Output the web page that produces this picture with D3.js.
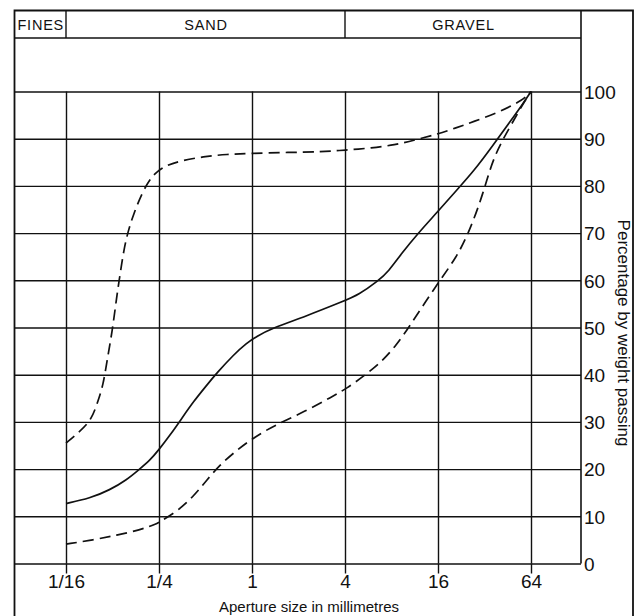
<!DOCTYPE html>
<html>
<head>
<meta charset="utf-8">
<script src="https://cdn.jsdelivr.net/npm/d3@7"></script>
<style>
  body { margin: 0; background: #fff; }
  svg { display: block; font-family: "Liberation Sans", Arial, sans-serif; }
</style>
</head>
<body>
<div id="chart"></div>
<script>
// aperture sizes (mm) and percentages
var sizeTicks = [1 / 16, 1 / 4, 1, 4, 16, 64];
var sizeTickLabels = ["1/16", "1/4", "1", "4", "16", "64"];
var pctTicks = [0, 10, 20, 30, 40, 50, 60, 70, 80, 90, 100];

var classNames = ["FINES", "SAND", "GRAVEL"];
var classLimits = [1 / 16, 4]; // fines | sand | gravel

// upper dashed curve
var upperSize = [0.0625, 0.077, 0.0916, 0.101, 0.109, 0.1146, 0.125, 0.133, 0.1396, 0.148, 0.158, 0.171,
  0.194, 0.219, 0.2415, 0.281, 0.343, 0.484, 0.686, 1, 1.71, 2.83, 4, 5.96, 8.4, 11.3, 15.9, 20.6,
  27.1, 40.3, 57, 64];
var upperPct = [25.5, 28, 30.5, 34.5, 38, 42.5, 49.5, 56.5, 61, 66.5, 70.5, 74,
  78.5, 81.5, 83, 84.4, 85.3, 86.2, 86.7, 86.9, 87.1, 87.2, 87.6, 88, 88.7, 89.7, 91, 92.2,
  93.6, 95.7, 98.2, 100];

// solid curve
var midSize = [0.0625, 0.0893, 0.1205, 0.154, 0.184, 0.219, 0.248, 0.295, 0.352, 0.418, 0.51, 0.59,
  0.758, 0.924, 1.07, 1.34, 2.2, 4, 4.88, 6.57, 7.62, 9.3, 11.9, 15.9, 21.1, 27.1, 36.5, 46.8, 57, 64];
var midPct = [12.7, 13.8, 15.6, 17.7, 19.8, 21.9, 24, 27.2, 30.8, 34.3, 37.8, 40.3,
  44.2, 46.7, 48.1, 49.8, 52.3, 55.7, 56.9, 59.9, 61.8, 65.7, 70, 74.5, 79.1, 83, 88.7, 93.6, 97.5, 100];

// lower dashed curve
var lowerSize = [0.0625, 0.094, 0.133, 0.188, 0.2415, 0.254, 0.326, 0.418, 0.51, 0.62, 0.796, 1.05,
  1.41, 2.2, 3.28, 4.11, 5.39, 6.92, 8.43, 10.27, 15.9, 21.1, 25.8, 31.4, 36.5, 46.8, 57, 64];
var lowerPct = [4.1, 5, 6, 7.1, 8.4, 8.9, 11, 14.2, 17.7, 20.9, 24, 26.9,
  29.3, 32.2, 35.3, 37.1, 39.9, 42.8, 45.9, 49.8, 59.4, 64.8, 70.7, 78.4, 86.2, 92.5, 97.5, 100];

var width = 636, height = 616;
var frame = { left: 14.5, top: 10.5, right: 633 };
var plot = { left: 14.5, right: 581, top: 91.5, bottom: 563.5 };
var headerBottom = 38;
var ink = "#111";

var x = d3.scaleLog().base(2).domain([1 / 16, 64]).range([66, 531]);
var y = d3.scaleLinear().domain([0, 100]).range([plot.bottom, plot.top]);

var svg = d3.select("#chart").append("svg")
  .attr("width", width)
  .attr("height", height);

// outer frame (bottom edge runs off the page)
svg.append("path")
  .attr("d", "M" + frame.left + "," + (height + 5) + "V" + frame.top + "H" + frame.right + "V" + (height + 5))
  .attr("fill", "none")
  .attr("stroke", ink)
  .attr("stroke-width", 1.8);

// header row with the soil classes
var bounds = [plot.left, x(classLimits[0]), x(classLimits[1]), plot.right];
svg.append("line")
  .attr("x1", plot.left).attr("x2", plot.right)
  .attr("y1", headerBottom).attr("y2", headerBottom)
  .attr("stroke", ink).attr("stroke-width", 1.4);

[1, 2].forEach(function (i) {
  svg.append("line")
    .attr("x1", bounds[i]).attr("x2", bounds[i])
    .attr("y1", frame.top).attr("y2", headerBottom)
    .attr("stroke", ink).attr("stroke-width", 1.4);
});

svg.selectAll(".classLabel")
  .data(classNames)
  .enter()
  .append("text")
  .attr("class", "classLabel")
  .attr("x", function (d, i) { return (bounds[i] + bounds[i + 1]) / 2 + 0.5; })
  .attr("y", 30)
  .attr("text-anchor", "middle")
  .style("font-size", "14.5px")
  .style("letter-spacing", "0.8px")
  .attr("fill", ink)
  .text(function (d) { return d; });

// horizontal gridlines + right hand labels
var yAxis = d3.axisRight(y)
  .tickValues(pctTicks)
  .tickSize(-(plot.right - plot.left))
  .tickPadding(3);

var gy = svg.append("g")
  .attr("transform", "translate(" + plot.right + ",0)")
  .call(yAxis);
gy.select(".domain").remove();
gy.selectAll("line").attr("stroke", ink).attr("stroke-width", 1.4);
gy.selectAll("text")
  .attr("fill", ink)
  .attr("dy", "0.36em")
  .style("font-size", "19px")
  .attr("font-family", null);

// right axis line runs up through the header
svg.append("line")
  .attr("x1", plot.right).attr("x2", plot.right)
  .attr("y1", frame.top).attr("y2", plot.bottom)
  .attr("stroke", ink).attr("stroke-width", 1.6);

// vertical gridlines
var gridX = svg.append("g")
  .attr("transform", "translate(0," + plot.bottom + ")")
  .call(d3.axisBottom(x)
    .tickValues(sizeTicks)
    .tickSize(-(plot.bottom - plot.top))
    .tickFormat(""));
gridX.select(".domain").remove();
gridX.selectAll("line").attr("stroke", ink).attr("stroke-width", 1.4);

// tick marks below the zero line and the size labels
var xAxis = d3.axisBottom(x)
  .tickValues(sizeTicks)
  .tickSize(10)
  .tickPadding(1)
  .tickFormat(function (d, i) { return sizeTickLabels[i]; });

var gx = svg.append("g")
  .attr("transform", "translate(0," + plot.bottom + ")")
  .call(xAxis);
gx.select(".domain").remove();
gx.selectAll("line").attr("stroke", ink).attr("stroke-width", 1.4);
gx.selectAll("text")
  .attr("fill", ink)
  .style("font-size", "19px")
  .attr("font-family", null);

// axis titles
svg.append("text")
  .attr("x", 309)
  .attr("y", 612)
  .attr("text-anchor", "middle")
  .style("font-size", "15px")
  .attr("fill", ink)
  .text("Aperture size in millimetres");

svg.append("text")
  .attr("transform", "translate(618,333) rotate(90)")
  .attr("text-anchor", "middle")
  .style("font-size", "17px")
  .attr("fill", ink)
  .text("Percentage by weight passing");

// grading curves
var line = d3.line()
  .x(function (d) { return x(d[0]); })
  .y(function (d) { return y(d[1]); })
  .curve(d3.curveBasis);

function drawCurve(sizes, pcts, dash) {
  svg.append("path")
    .datum(d3.zip(sizes, pcts))
    .attr("d", line)
    .attr("fill", "none")
    .attr("stroke", ink)
    .attr("stroke-width", 1.7)
    .attr("stroke-dasharray", dash);
}

drawCurve(upperSize, upperPct, "11,6");
drawCurve(midSize, midPct, null);
drawCurve(lowerSize, lowerPct, "11,6");
</script>
</body>
</html>
